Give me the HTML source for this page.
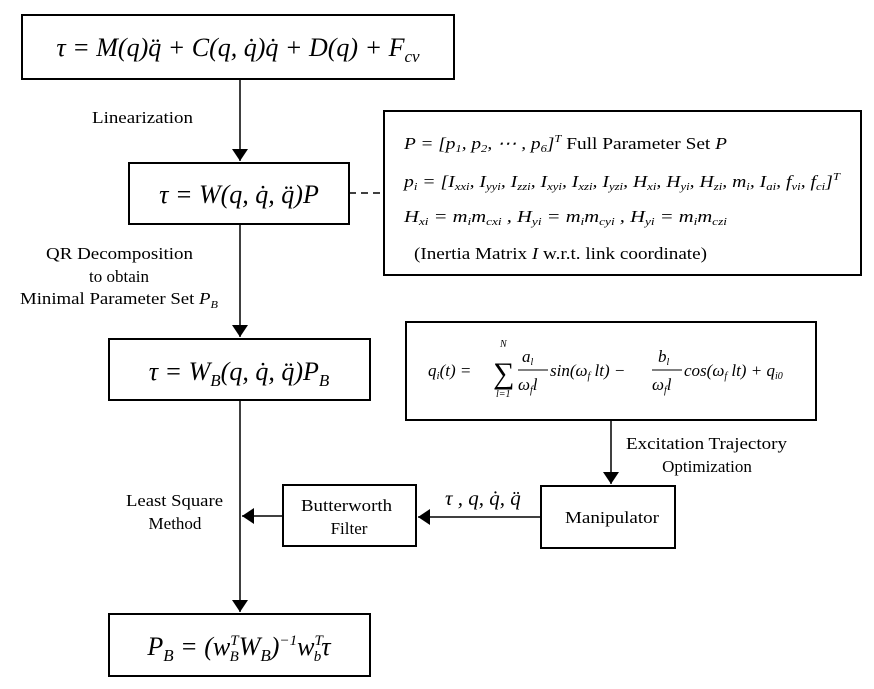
<!DOCTYPE html>
<html><head><meta charset="utf-8"><style>
html,body{margin:0;padding:0;background:#fff;}
svg{display:block;}
text{font-family:"Liberation Serif",serif;fill:#000;}
.m{font-style:italic;}
</style></head><body>
<svg width="874" height="689" viewBox="0 0 874 689" xmlns="http://www.w3.org/2000/svg">
<defs>
<marker id="b" viewBox="0 0 10 10" markerWidth="12" markerHeight="16" refX="10" refY="5" orient="auto" markerUnits="userSpaceOnUse" preserveAspectRatio="none"><path d="M0,0 L10,5 L0,10 z" fill="#000"/></marker></defs>
<g fill="none" stroke="#000" stroke-width="2">
<rect x="22" y="15" width="432" height="64"/>
<rect x="129" y="163" width="220" height="61"/>
<rect x="384" y="111" width="477" height="164"/>
<rect x="109" y="339" width="261" height="61"/>
<rect x="406" y="322" width="410" height="98"/>
<rect x="283" y="485" width="133" height="61"/>
<rect x="541" y="486" width="134" height="62"/>
<rect x="109" y="614" width="261" height="62"/>
</g>
<g stroke="#000" stroke-width="1.5" fill="none">
<line x1="240" y1="79" x2="240" y2="161" marker-end="url(#b)"/>
<line x1="240" y1="224" x2="240" y2="337" marker-end="url(#b)"/>
<line x1="240" y1="400" x2="240" y2="612" marker-end="url(#b)"/>
<line x1="283" y1="516" x2="242" y2="516" marker-end="url(#b)"/>
<line x1="541" y1="517" x2="418" y2="517" marker-end="url(#b)"/>
<line x1="611" y1="420" x2="611" y2="484" marker-end="url(#b)"/>
<line x1="349" y1="193" x2="384" y2="193" stroke-dasharray="7,5"/>
</g>
<text x="238" y="56" font-size="26" text-anchor="middle" class="m">τ = M(q)q̈ + C(q, q̇)q̇ + D(q) + F<tspan font-size="17" dy="6">cv</tspan></text>
<text x="239" y="203" font-size="26" text-anchor="middle" class="m">τ = W(q, q̇, q̈)P</text>
<text x="239" y="380" font-size="26" text-anchor="middle" class="m">τ = W<tspan font-size="17" dy="6">B</tspan><tspan dy="-6">(q, q̇, q̈)P</tspan><tspan font-size="17" dy="6">B</tspan></text>
<text x="239" y="655" font-size="26" text-anchor="middle" class="m">P<tspan font-size="17" dy="6">B</tspan><tspan dy="-6"> = (w</tspan><tspan font-size="15" dy="-10">T</tspan><tspan font-size="15" dx="-9" dy="16">B</tspan><tspan dy="-6">W</tspan><tspan font-size="17" dy="6">B</tspan><tspan dy="-6">)</tspan><tspan font-size="15" dy="-10">−1</tspan><tspan dy="10">w</tspan><tspan font-size="15" dy="-10">T</tspan><tspan font-size="15" dx="-9" dy="16">b</tspan><tspan dy="-6">τ</tspan></text>
<text x="92" y="123" font-size="17" textLength="101" lengthAdjust="spacingAndGlyphs">Linearization</text>
<text x="46" y="259" font-size="17" textLength="147" lengthAdjust="spacingAndGlyphs">QR Decomposition</text>
<text x="119" y="282" font-size="17" text-anchor="middle">to obtain</text>
<text x="20" y="304" font-size="17" textLength="198" lengthAdjust="spacingAndGlyphs">Minimal Parameter Set <tspan class="m">P</tspan><tspan class="m" font-size="11" dy="4">B</tspan></text>
<text x="126" y="506" font-size="17" textLength="97" lengthAdjust="spacingAndGlyphs">Least Square</text>
<text x="175" y="529" font-size="17" text-anchor="middle">Method</text>
<text x="301" y="511" font-size="17" textLength="91" lengthAdjust="spacingAndGlyphs">Butterworth</text>
<text x="349" y="534" font-size="17" text-anchor="middle">Filter</text>
<text x="565" y="523" font-size="17" textLength="94" lengthAdjust="spacingAndGlyphs">Manipulator</text>
<text x="626" y="449" font-size="17" textLength="161" lengthAdjust="spacingAndGlyphs">Excitation Trajectory</text>
<text x="707" y="472" font-size="17" text-anchor="middle">Optimization</text>
<text x="445" y="505" font-size="21" class="m">τ , q, q̇, q̈</text>
<text x="404" y="149" font-size="17" class="m" textLength="323" lengthAdjust="spacingAndGlyphs">P = [p<tspan font-size="11" dy="3">1</tspan><tspan dy="-3">, p</tspan><tspan font-size="11" dy="3">2</tspan><tspan dy="-3">, ⋯ , p</tspan><tspan font-size="11" dy="3">6</tspan><tspan dy="-3">]</tspan><tspan font-size="11" dy="-7">T</tspan><tspan dy="7" font-style="normal">      Full Parameter Set </tspan>P</text>
<text x="404" y="187" font-size="17" class="m" textLength="436" lengthAdjust="spacingAndGlyphs">p<tspan font-size="11" dy="3">i</tspan><tspan dy="-3"> = [I</tspan><tspan font-size="11" dy="3">xxi</tspan><tspan dy="-3">, I</tspan><tspan font-size="11" dy="3">yyi</tspan><tspan dy="-3">, I</tspan><tspan font-size="11" dy="3">zzi</tspan><tspan dy="-3">, I</tspan><tspan font-size="11" dy="3">xyi</tspan><tspan dy="-3">, I</tspan><tspan font-size="11" dy="3">xzi</tspan><tspan dy="-3">, I</tspan><tspan font-size="11" dy="3">yzi</tspan><tspan dy="-3">, H</tspan><tspan font-size="11" dy="3">xi</tspan><tspan dy="-3">, H</tspan><tspan font-size="11" dy="3">yi</tspan><tspan dy="-3">, H</tspan><tspan font-size="11" dy="3">zi</tspan><tspan dy="-3">, m</tspan><tspan font-size="11" dy="3">i</tspan><tspan dy="-3">, I</tspan><tspan font-size="11" dy="3">ai</tspan><tspan dy="-3">, f</tspan><tspan font-size="11" dy="3">vi</tspan><tspan dy="-3">, f</tspan><tspan font-size="11" dy="3">ci</tspan><tspan dy="-3">]</tspan><tspan font-size="11" dy="-7">T</tspan></text>
<text x="404" y="222" font-size="17" class="m" textLength="323" lengthAdjust="spacingAndGlyphs">H<tspan font-size="11" dy="3">xi</tspan><tspan dy="-3"> = m</tspan><tspan font-size="11" dy="3">i</tspan><tspan dy="-3">m</tspan><tspan font-size="11" dy="3">cxi</tspan><tspan dy="-3"> , H</tspan><tspan font-size="11" dy="3">yi</tspan><tspan dy="-3"> = m</tspan><tspan font-size="11" dy="3">i</tspan><tspan dy="-3">m</tspan><tspan font-size="11" dy="3">cyi</tspan><tspan dy="-3"> , H</tspan><tspan font-size="11" dy="3">yi</tspan><tspan dy="-3"> = m</tspan><tspan font-size="11" dy="3">i</tspan><tspan dy="-3">m</tspan><tspan font-size="11" dy="3">czi</tspan></text>
<text x="414" y="259" font-size="17" textLength="293" lengthAdjust="spacingAndGlyphs">(Inertia Matrix <tspan class="m">I</tspan> w.r.t. link coordinate)</text>
<g font-size="17" class="m">
<text x="428" y="376">q<tspan font-size="11" dy="3">i</tspan><tspan dy="-3">(t) =</tspan></text>
<text x="493" y="383" font-size="30" font-style="normal">∑</text>
<text x="500" y="347" font-size="10">N</text>
<text x="496" y="397" font-size="10">l=1</text>
<text x="522" y="362">a<tspan font-size="10" dy="3">l</tspan></text>
<line x1="518" y1="370" x2="548" y2="370" stroke="#000" stroke-width="1"/>
<text x="518" y="390">ω<tspan font-size="10" dy="3">f</tspan><tspan dy="-3">l</tspan></text>
<text x="550" y="376">sin(ω<tspan font-size="10" dy="3">f</tspan><tspan dy="-3"> lt) −</tspan></text>
<text x="658" y="362">b<tspan font-size="10" dy="3">l</tspan></text>
<line x1="652" y1="370" x2="682" y2="370" stroke="#000" stroke-width="1"/>
<text x="652" y="390">ω<tspan font-size="10" dy="3">f</tspan><tspan dy="-3">l</tspan></text>
<text x="684" y="376">cos(ω<tspan font-size="10" dy="3">f</tspan><tspan dy="-3"> lt) + q</tspan><tspan font-size="10" dy="3">i0</tspan></text>
</g>
</svg>
</body></html>
